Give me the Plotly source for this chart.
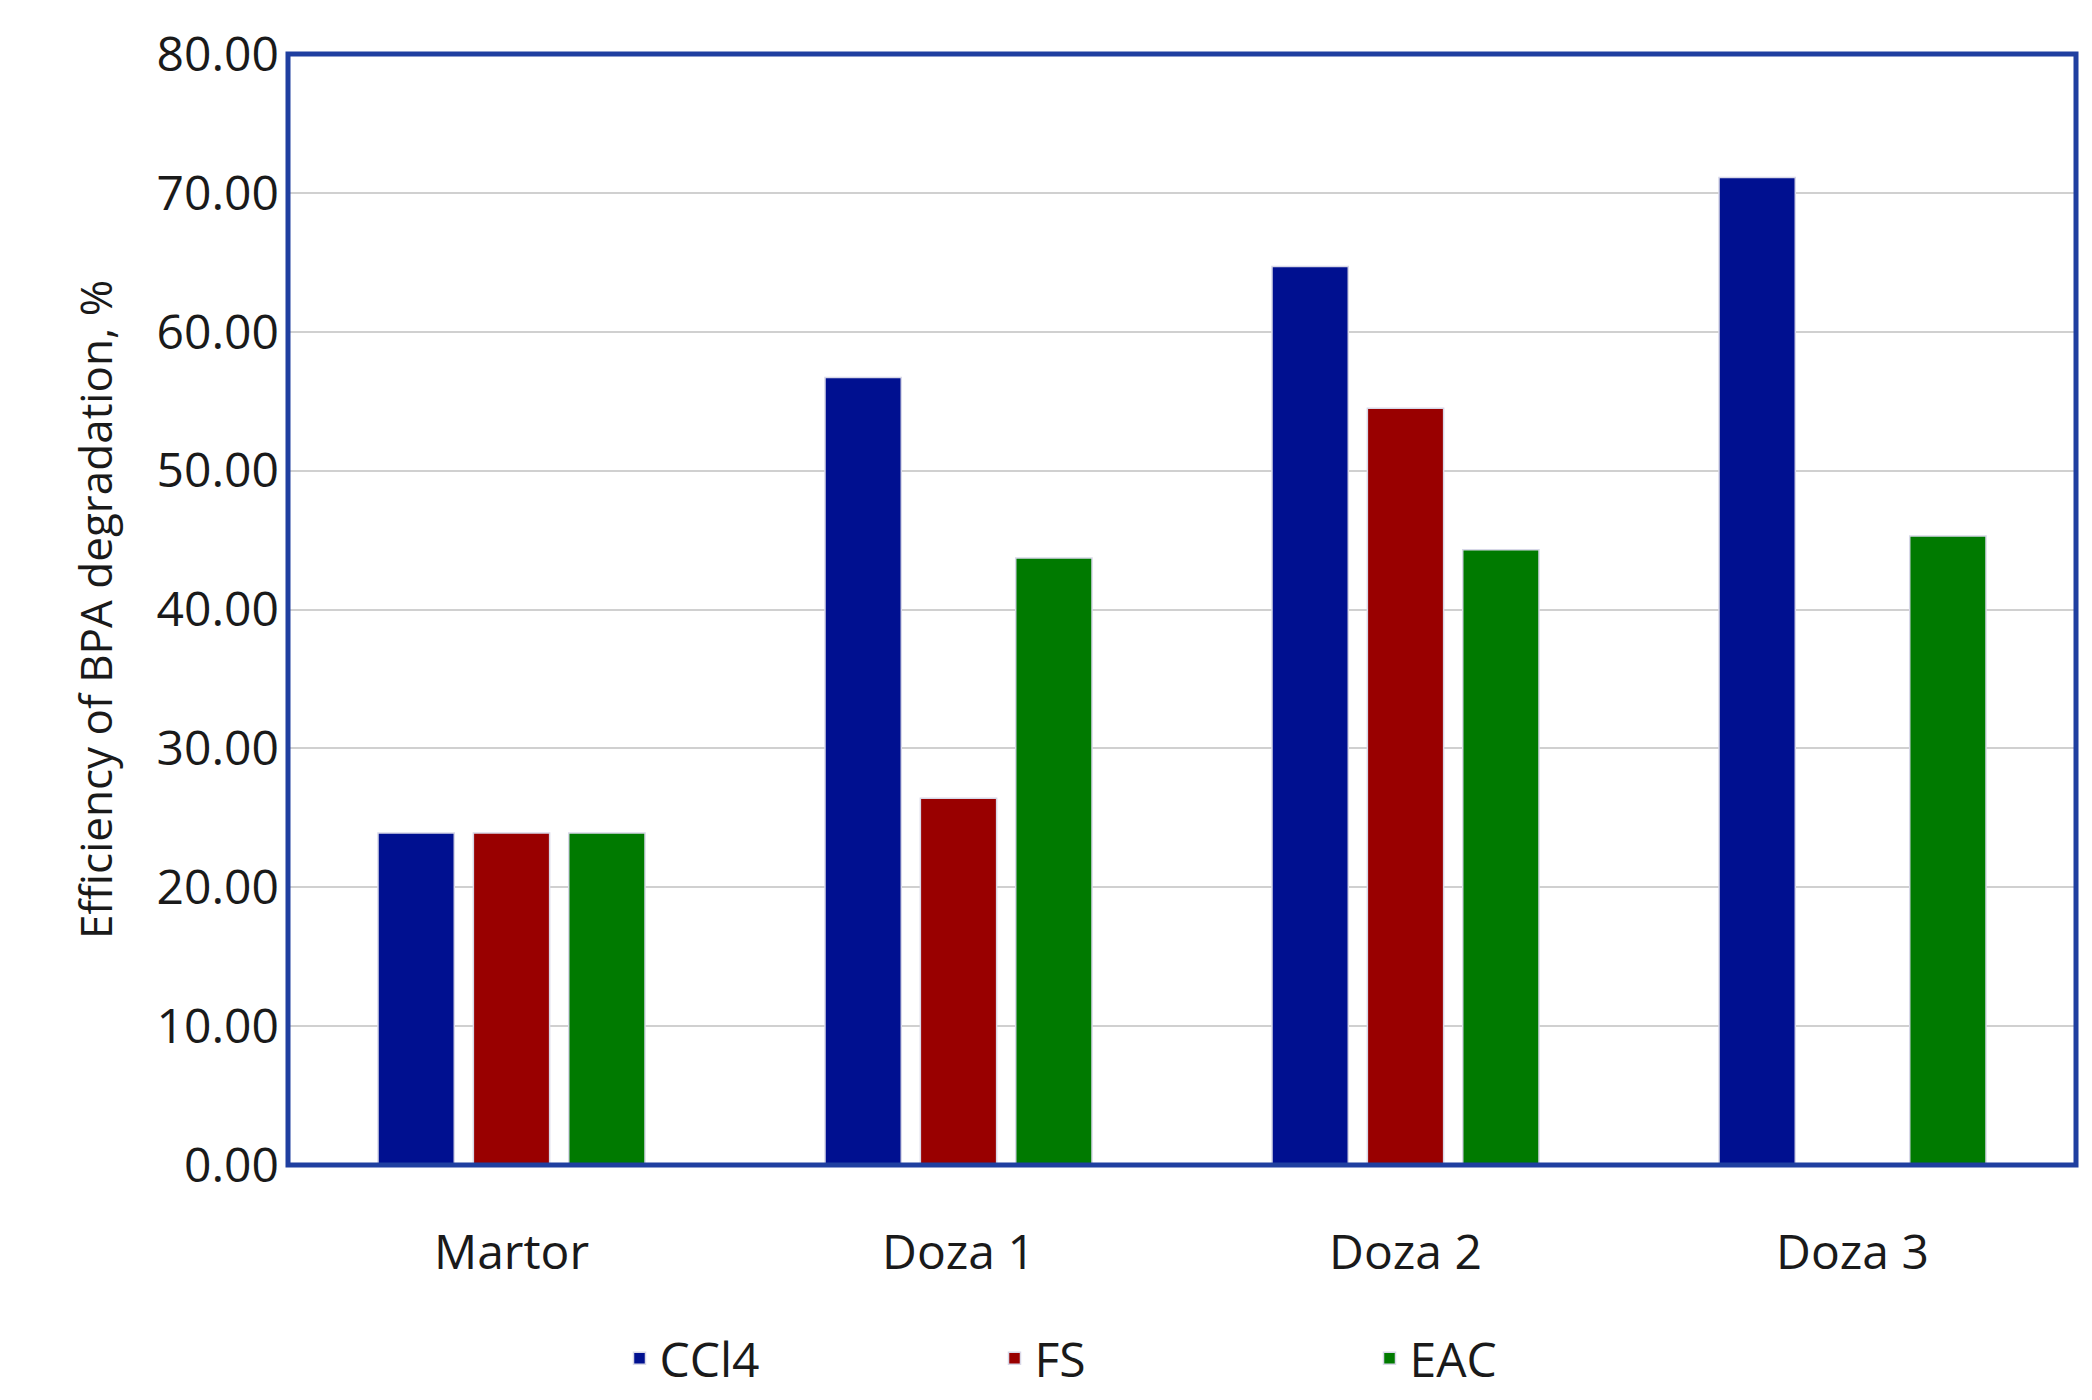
import plotly.graph_objects as go

categorias = ['Martor', 'Doza 1', 'Doza 2', 'Doza 3']
ccl4 = [23.9, 56.7, 64.7, 71.1]
fs = [23.9, 26.4, 54.5, None]
eac = [23.9, 43.7, 44.3, 45.3]

fuente = "Open Sans"

fig = go.Figure()
for nombre, valores, color in [('CCl4', ccl4, '#001090'), ('FS', fs, '#990000'), ('EAC', eac, '#007A00')]:
    fig.add_trace(go.Bar(x=categorias, y=valores, name=nombre,
                         marker=dict(color=color, line=dict(color='#d8d8e8', width=1.5))))

fig.update_layout(
    width=2092, height=1400,
    paper_bgcolor='white', plot_bgcolor='white',
    margin=dict(l=280, r=24, t=44, b=239),
    barmode='group', bargap=0.36, bargroupgap=0.2,
    font=dict(family=fuente, color='#1a1a1a'),
    showlegend=True,
    legend=dict(orientation='h', x=0.5, xanchor='center', y=-0.14, yanchor='top',
                font=dict(size=48), traceorder='normal', entrywidth=330),
    xaxis=dict(showgrid=False, tickfont=dict(size=48), ticks='', showline=False,
               ticklabelstandoff=55),
    yaxis=dict(range=[0, 80], dtick=10, tickformat='.2f', tickfont=dict(size=48),
               gridcolor='#d0d0d0', gridwidth=2, zeroline=True, zerolinecolor='#1F3FA0', zerolinewidth=4,
               ticklabelstandoff=8,
               title=dict(text='Efficiency of BPA degradation, %', font=dict(size=44), standoff=30)),
    shapes=[dict(type='rect', xref='paper', yref='paper', x0=0, x1=1, y0=0, y1=1,
                 line=dict(color='#1F3FA0', width=5))],
)

fig.write_html("out.html")
